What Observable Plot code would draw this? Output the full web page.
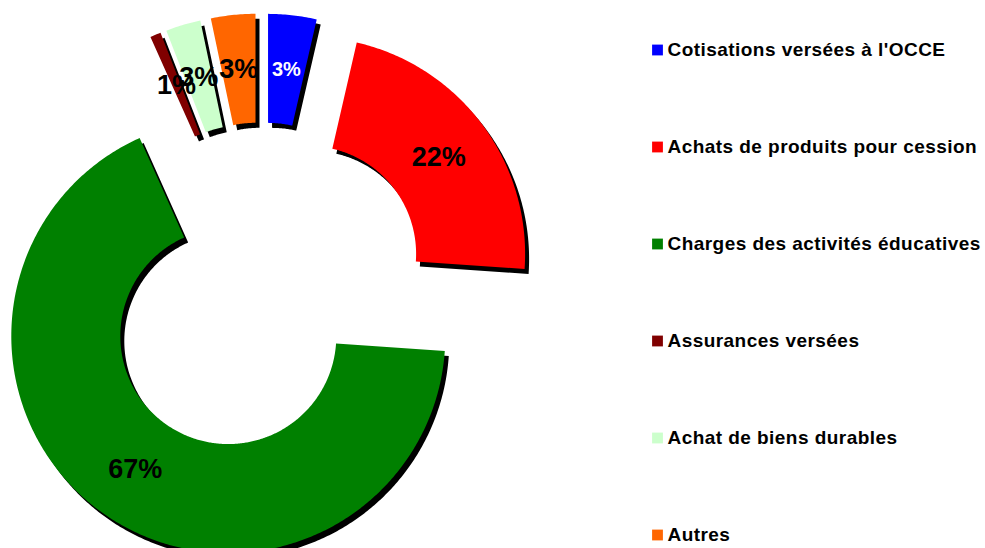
<!DOCTYPE html>
<html>
<head>
<meta charset="utf-8">
<script src="https://cdn.jsdelivr.net/npm/d3@7"></script>
<script src="https://cdn.jsdelivr.net/npm/@observablehq/plot@0.6"></script>
<style>
  html, body { margin: 0; padding: 0; background: #fff; }
  svg { display: block; }
</style>
</head>
<body>
<div id="chart"></div>
<script>
// ---- data ----
const categories = [
  "Cotisations versées à l'OCCE",
  "Achats de produits pour cession",
  "Charges des activités éducatives",
  "Assurances versées",
  "Achat de biens durables",
  "Autres"
];
const shares = [3.6, 22.5, 67.2, 0.8, 2.6, 3.3];
const pctLabels = ["3%", "22%", "67%", "1%", "3%", "3%"];
const colors = ["#0000ff", "#ff0000", "#008000", "#800000", "#ccffcc", "#ff6600"];
const labelColors = ["#ffffff", "#000000", "#000000", "#000000", "#000000", "#000000"];

// ---- layout ----
const W = 985, H = 548;
const cx = 261, cy = 288;       // donut centre (px units)
const outerR = 217, innerR = 108, explode = 58;
const legendX = 657, legendTextX = 667, legendY0 = 49.5, legendStep = 97;
const font = "'Liberation Sans', Arial, Helvetica, sans-serif";

const pie = d3.pie().sort(null).value(d => d.v).startAngle(0).endAngle(2 * Math.PI);
const arcs = pie(categories.map((c, i) => ({c, v: shares[i], i})));

const polyPts = [];
const labelPts = [];
for (const a of arcs) {
  const mid = (a.startAngle + a.endAngle) / 2;
  const ox = cx + explode * Math.sin(mid);
  const oy = cy - explode * Math.cos(mid);
  const n = Math.max(2, Math.ceil((a.endAngle - a.startAngle) / 0.01));
  const cat = a.data.c;
  for (let k = 0; k <= n; k++) {
    const t = a.startAngle + (a.endAngle - a.startAngle) * k / n;
    polyPts.push({cat, x: ox + outerR * Math.sin(t), y: oy - outerR * Math.cos(t)});
  }
  for (let k = n; k >= 0; k--) {
    const t = a.startAngle + (a.endAngle - a.startAngle) * k / n;
    polyPts.push({cat, x: ox + innerR * Math.sin(t), y: oy - innerR * Math.cos(t)});
  }
  const rm = (outerR + innerR) / 2;
  labelPts.push({
    i: a.data.i,
    cat,
    text: pctLabels[a.data.i],
    color: labelColors[a.data.i],
    x: ox + rm * Math.sin(mid),
    y: oy - rm * Math.cos(mid)
  });
}

const legendRows = categories.map((c, i) => ({cat: c, x: legendX, tx: legendTextX, y: legendY0 + i * legendStep}));

const chart = Plot.plot({
  width: W,
  height: H,
  margin: 0,
  style: {background: "#fff", fontFamily: font, overflow: "hidden"},
  x: {domain: [0, W], range: [0, W], axis: null},
  y: {domain: [0, H], range: [0, H], axis: null},
  color: {domain: categories, range: colors},
  marks: [
    // shadows
    Plot.line(polyPts, {x: "x", y: "y", z: "cat", fill: "#000", stroke: null, curve: "linear-closed", dx: 4, dy: 5}),
    // slices
    Plot.line(polyPts, {x: "x", y: "y", z: "cat", fill: "cat", stroke: null, curve: "linear-closed"}),
    // slice labels
    Plot.text(labelPts.filter(d => d.i === 0), {x: "x", y: "y", text: "text", fill: "color", fontSize: 20, fontWeight: "bold", fontFamily: font}),
    Plot.text(labelPts.filter(d => d.i !== 0), {x: "x", y: "y", text: "text", fill: "color", fontSize: 27, fontWeight: "bold", fontFamily: font}),
    // legend
    Plot.dot(legendRows, {x: "x", y: "y", symbol: "square", r: 6.1, fill: "cat", stroke: null}),
    Plot.text(legendRows, {x: "tx", y: "y", text: "cat", textAnchor: "start", fill: "#000", fontSize: 19, fontWeight: "bold", fontFamily: font})
  ]
});
// slightly looser tracking on the legend text, as in the original rendering
const textGroups = chart.querySelectorAll('g[aria-label="text"]');
textGroups[textGroups.length - 1].setAttribute("letter-spacing", "0.45px");
document.getElementById("chart").appendChild(chart);
</script>
</body>
</html>
